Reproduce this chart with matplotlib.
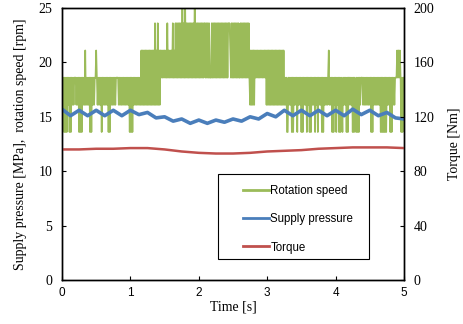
import numpy as np
import matplotlib
matplotlib.use('Agg')
import matplotlib.pyplot as plt
from matplotlib.patches import Rectangle
from matplotlib.lines import Line2D

plt.rcParams['path.simplify'] = False

# rotation speed [rpm], one code per 10 ms sample, code = index into speed_levels
speed_levels = [13.6, 16.1, 18.6, 21.1, 23.6, 26.1]
speed_codes = (
    "2120202021" "2020212122" "2121202020" "2121312121" "2020212122"
    "3212121202" "1212121202" "0212121212" "2221212121" "2121212120"
    "2020212121" "2121213131" "3131313131" "3131314131" "4131323232"
    "3232423232" "3242324242" "4242425242" "5242424242" "4242524242"
    "4242424244" "2424242224" "2424242424" "2424242424" "2424443242"
    "4242424242" "2424242424" "2424213131" "3132323232" "3232323231"
    "3131313131" "3131313131" "3131312120" "0212120202" "1212021212"
    "0202121202" "1202021212" "0212021212" "0202121212" "3121202021"
    "2021202021" "0212120202" "2121202021" "0202021222" "1212121212"
    "1202021212" "1212120202" "0202021212" "0202121222" "3232320202"
    "2"
)
speed_dt = 0.01

# supply pressure [MPa], peaks and troughs every 0.125 s
pressure_vals = [15.7, 15.1, 15.6, 15.1, 15.6, 15.1, 15.6, 15.1, 15.6, 15.2,
                 15.4, 14.9, 15.0, 14.6, 14.8, 14.4, 14.7, 14.4, 14.7, 14.5,
                 14.8, 14.6, 15.0, 14.8, 15.3, 15.0, 15.6, 15.1, 15.6, 15.1,
                 15.6, 15.1, 15.6, 15.1, 15.7, 15.2, 15.6, 15.1, 15.4, 14.9,
                 14.8]

# torque [Nm], every 0.25 s
torque_vals = [96, 96, 96.5, 96.5, 97, 97, 96, 94.5, 93.5, 93, 93,
               93.5, 94.5, 95, 95.5, 96.5, 97, 97.5, 97.5, 97.5, 97]

speed = np.array([speed_levels[int(c)] for c in speed_codes])
speed_t = np.arange(len(speed)) * speed_dt
pressure_t = np.linspace(0, 5, len(pressure_vals))
torque_t = np.linspace(0, 5, len(torque_vals))

serif = 'Liberation Serif'
sans = 'Liberation Sans'
green = '#9BBB59'
blue = '#4A7EBB'
red = '#C0504D'

fig = plt.figure(figsize=(4.64, 3.24), dpi=100)
ax = fig.add_axes([0.1336, 0.1358, 0.7371, 0.8395])
ax2 = ax.twinx()

ax.plot(speed_t, speed, color=green, lw=1.2)
ax.plot(pressure_t, pressure_vals, color=blue, lw=2.6)
ax2.plot(torque_t, torque_vals, color=red, lw=1.8)

ax.set_xlim(0, 5)
ax.set_ylim(0, 25)
ax2.set_ylim(0, 200)
ax.set_xticks(range(6))
ax.set_yticks(range(0, 26, 5))
ax2.set_yticks(range(0, 201, 40))

for a in (ax, ax2):
    a.tick_params(direction='in', length=3, width=0.8)
    for s in a.spines.values():
        s.set_linewidth(1.0)
ax.tick_params(axis='y', pad=7)
ax2.tick_params(axis='y', pad=7)
ax.tick_params(axis='x', pad=5)

for lab in ax.get_xticklabels():
    lab.set_fontfamily(sans)
    lab.set_fontsize(8.5)
for lab in ax.get_yticklabels() + ax2.get_yticklabels():
    lab.set_fontfamily(serif)
    lab.set_fontsize(10)

ax.set_xlabel('Time [s]', fontfamily=serif, fontsize=10, labelpad=1)
ax.set_ylabel('Supply pressure [MPa],  rotation speed [rpm]',
              fontfamily=serif, fontsize=10, labelpad=8)
ax2.set_ylabel('Torque [Nm]', fontfamily=serif, fontsize=10, labelpad=10)

# legend box
fig.add_artist(Rectangle((218 / 464, 1 - 259 / 324), 151 / 464, 85 / 324,
                         transform=fig.transFigure, fill=False,
                         edgecolor='black', lw=0.8, zorder=5))
handles = [Line2D([], [], color=green, lw=2),
           Line2D([], [], color=blue, lw=2),
           Line2D([], [], color=red, lw=2)]
fig.legend(handles, ['Rotation speed', 'Supply pressure', 'Torque'],
           loc='upper left', bbox_to_anchor=(234 / 464, 1 - 176 / 324),
           frameon=False, prop={'family': sans, 'size': 8.3},
           handlelength=2.2, handletextpad=0.15, labelspacing=1.4,
           borderpad=0.3)

fig.savefig('out.png', dpi=100)
